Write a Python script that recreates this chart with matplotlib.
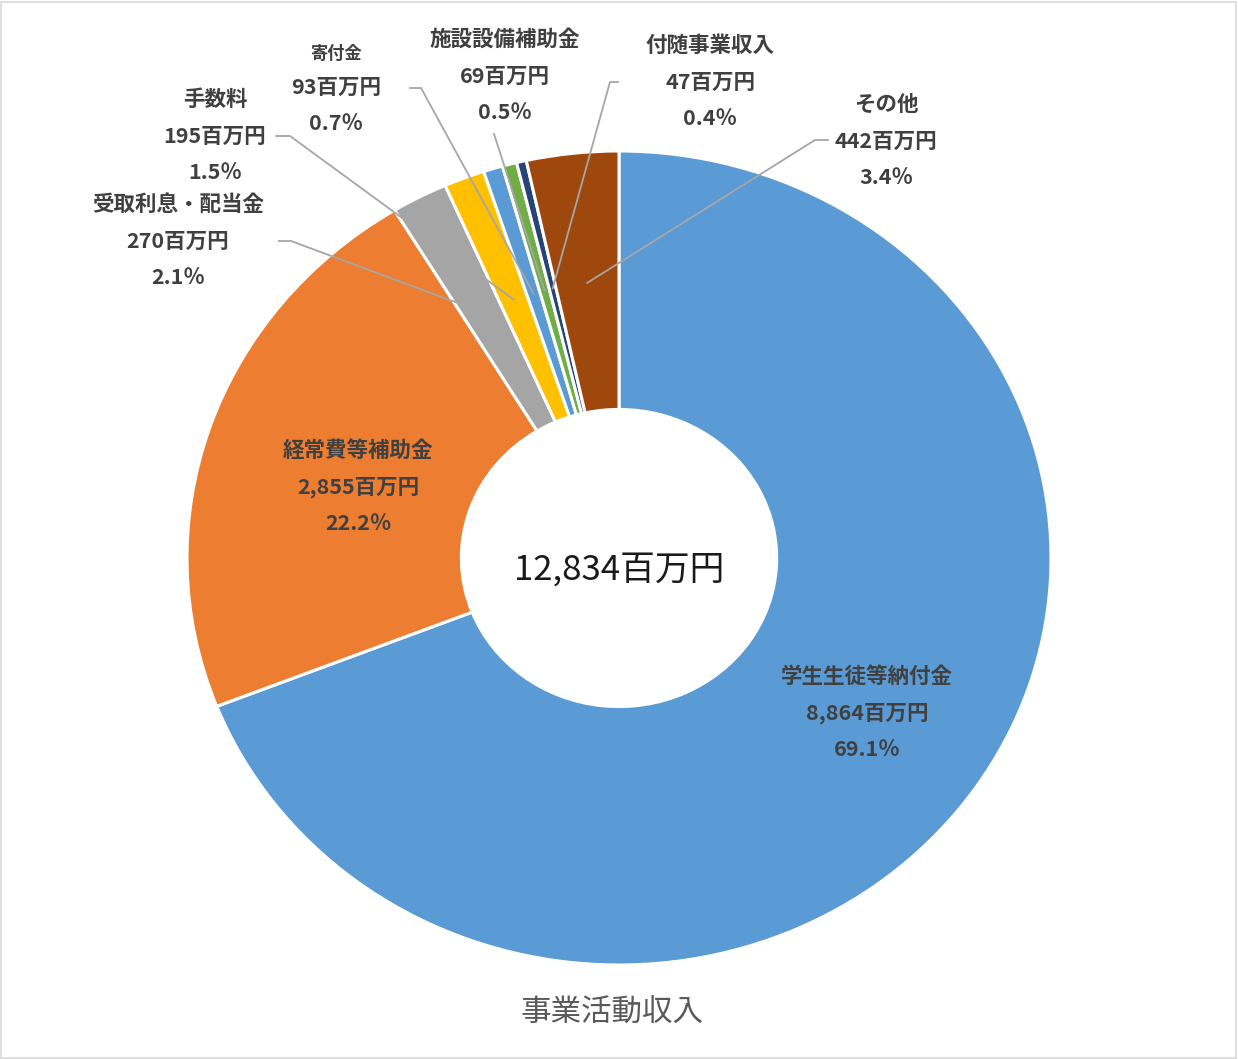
import numpy as np
import matplotlib.pyplot as plt
from matplotlib.patches import Rectangle

plt.rcParams['font.family'] = ['Noto Sans CJK JP', 'DejaVu Sans']

# data
names = ['学生生徒等納付金', '経常費等補助金', '受取利息・配当金', '手数料',
         '寄付金', '施設設備補助金', '付随事業収入', 'その他']
values = [8864, 2855, 270, 195, 93, 69, 47, 442]
shares = [69.1, 22.2, 2.1, 1.5, 0.7, 0.5, 0.4, 3.4]
total = 12834
colors = ['#5B9BD5', '#ED7D31', '#A5A5A5', '#FFC000',
          '#5B9BD5', '#70AD47', '#264478', '#9E480E']

W, H = 1238, 1059
cx, cy, rx, ry = 619, 558, 432, 407

fig = plt.figure(figsize=(W / 100, H / 100), dpi=100)
fig.patches.append(Rectangle((1 / W, 1 / H), 1 - 3 / W, 1 - 3 / H, transform=fig.transFigure,
                             fill=False, edgecolor='#D9D9D9', linewidth=1.2))
ax = fig.add_axes([(cx - rx) / W, (H - cy - ry) / H, 2 * rx / W, 2 * ry / H])

wedges, _ = ax.pie(values, colors=colors, startangle=90, counterclock=False,
                   radius=1, wedgeprops=dict(width=0.635, edgecolor='white', linewidth=2.2))
ax.set_aspect('auto')
ax.set_xlim(-1, 1)
ax.set_ylim(-1, 1)
ax.axis('off')


def px(x, y):  # pixel -> pie data coords
    return (x - cx) / rx, (cy - y) / ry


# label block centres (pixels) and leader line start points
label_pos = [(867, 713), (358, 487), (178, 241), (215, 136),
             (336, 87), (505, 76), (710, 82), (886, 141)]
leaders = {2: [(279, 241), (291, 241)],
           3: [(276, 136), (290, 136)],
           4: [(410, 88), (421, 88)],
           5: [(494, 134)],
           6: [(618, 82), (610, 82)],
           7: [(828, 140), (815, 140)]}

txt_color = '#404040'
fs = 15.5
gap = 36.5
for i, (name, v, s) in enumerate(zip(names, values, shares)):
    x, y = label_pos[i]
    lines = [name, f'{v:,}百万円', f'{s}％']
    for k, t in enumerate(lines):
        size = fs * 0.8 if (i == 4 and k == 0) else fs
        dy = (k - 1) * gap
        if i == 4 and k == 0:
            dy = -33
        tx, ty = px(x, y + dy)
        ax.text(tx, ty, t, ha='center', va='center', fontsize=size,
                fontweight='bold', color=txt_color, clip_on=False)

# leader lines to wedge mid angle
cum = np.cumsum([0] + values)
for i, pts in leaders.items():
    mid = (cum[i] + cum[i + 1]) / 2 / cum[-1] * 2 * np.pi
    ex, ey = 0.68 * np.sin(mid), 0.68 * np.cos(mid)
    xs = [px(*p)[0] for p in pts] + [ex]
    ys = [px(*p)[1] for p in pts] + [ey]
    ax.plot(xs, ys, color='#A6A6A6', linewidth=1.3, clip_on=False)

ax.text(0, px(0, 570)[1], f'{total:,}百万円', ha='center', va='center',
        fontsize=25, color='#1A1A1A')
fig.text(612 / W, 1 - 1013 / H, '事業活動収入', ha='center', va='center',
         fontsize=22, color='#595959')

fig.savefig('out.png', dpi=100)
